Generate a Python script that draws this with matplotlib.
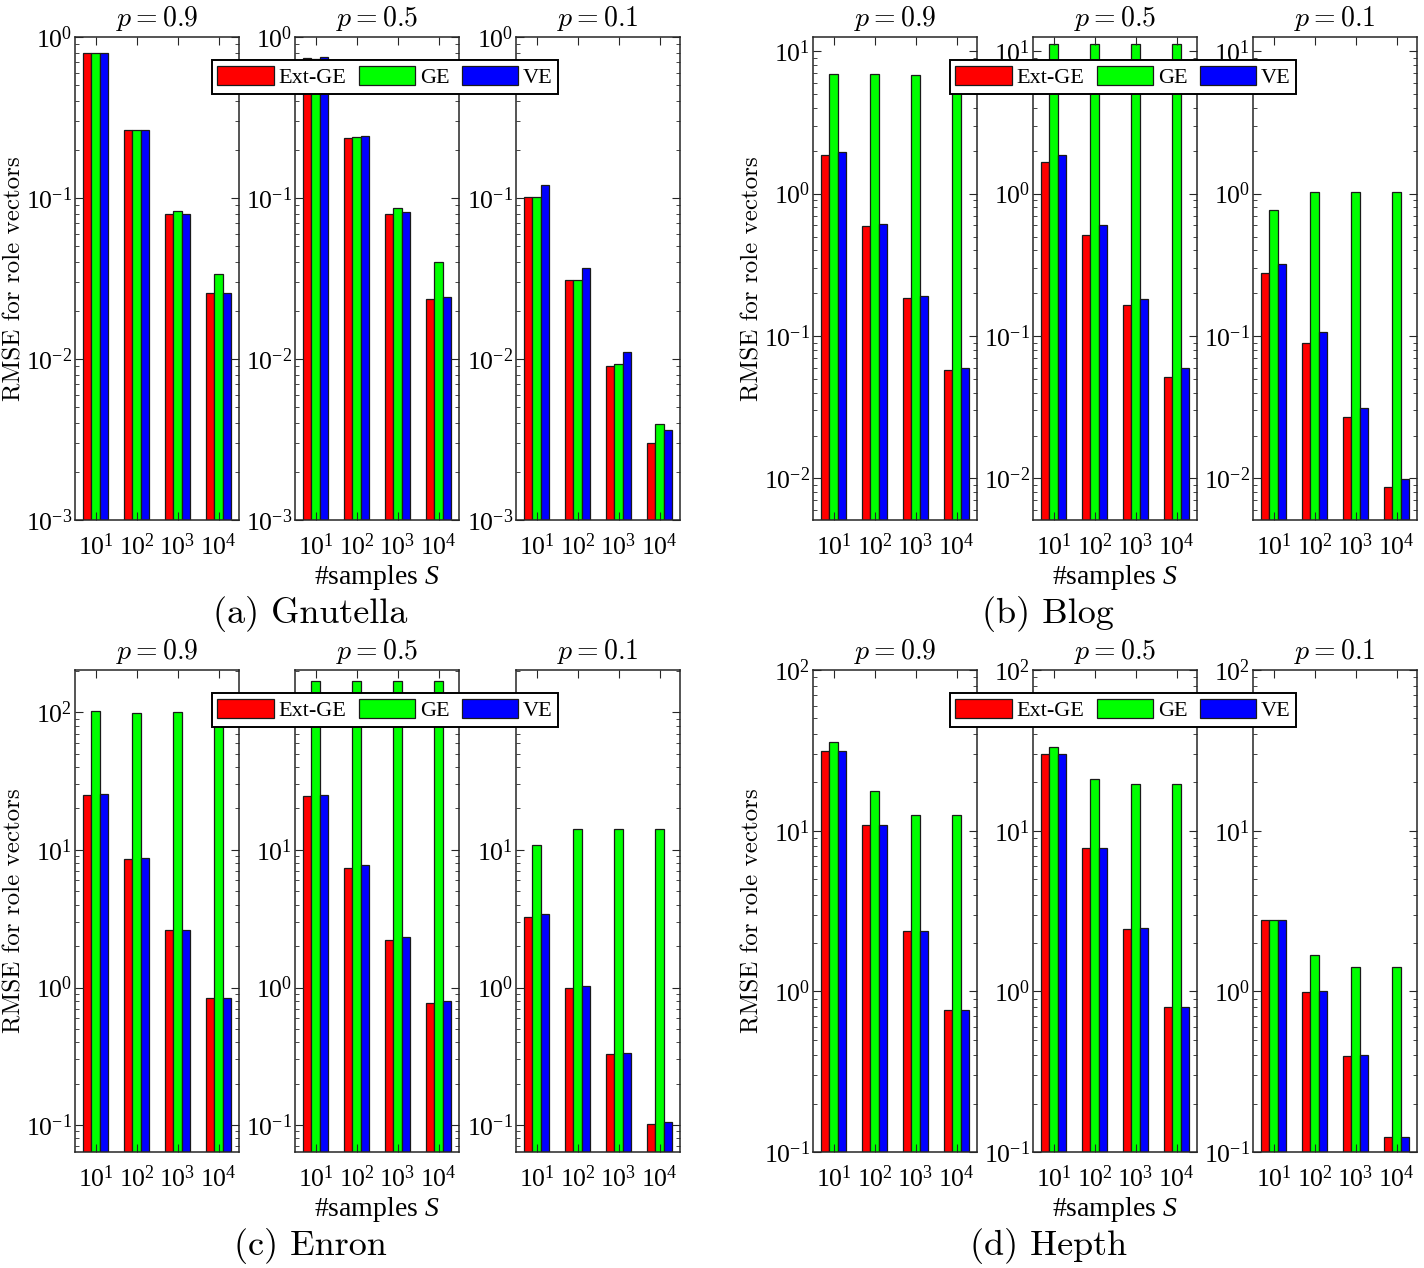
import numpy as np
import matplotlib
matplotlib.use('Agg')
import matplotlib.pyplot as plt
from matplotlib.ticker import NullFormatter

plt.rcParams.update({
    'font.family': ['Liberation Serif', 'DejaVu Serif'],
    'mathtext.fontset': 'custom',
    'mathtext.rm': 'Liberation Serif',
    'mathtext.it': 'Liberation Serif:italic',
    'mathtext.bf': 'Liberation Serif:bold',
    'axes.unicode_minus': False,
    'axes.edgecolor': '#262626',
    'axes.linewidth': 1.1,
    'xtick.color': '#262626',
    'ytick.color': '#262626',
    'xtick.labelcolor': 'black',
    'ytick.labelcolor': 'black',
})

SAMPLES = ['$10^1$', '$10^2$', '$10^3$', '$10^4$']
P_VALUES = ['0.9', '0.5', '0.1']
METHODS = ['Ext-GE', 'GE', 'VE']
COLORS = ['#ff0000', '#00ff00', '#0000ff']

# RMSE per p (rows: p=0.9, 0.5, 0.1), columns: S = 10^1..10^4
gnutella_ext = [[0.80, 0.265, 0.0796, 0.0257], [0.737, 0.235, 0.0796, 0.0236], [0.102, 0.031, 0.00905, 0.0030]]
gnutella_ge = [[0.80, 0.265, 0.0827, 0.0336], [0.733, 0.238, 0.0867, 0.040], [0.102, 0.031, 0.00935, 0.00395]]
gnutella_ve = [[0.80, 0.265, 0.0796, 0.0257], [0.755, 0.241, 0.082, 0.0244], [0.12, 0.0367, 0.011, 0.0036]]

blog_ext = [[1.86, 0.59, 0.185, 0.058], [1.68, 0.51, 0.165, 0.0515], [0.279, 0.090, 0.0272, 0.0087]]
blog_ge = [[6.96, 6.88, 6.77, 6.7], [11.3, 11.2, 11.2, 11.2], [0.766, 1.02, 1.02, 1.02]]
blog_ve = [[1.96, 0.61, 0.191, 0.060], [1.88, 0.60, 0.182, 0.060], [0.322, 0.106, 0.031, 0.00986]]

enron_ext = [[25.1, 8.63, 2.61, 0.84], [24.5, 7.42, 2.21, 0.766], [3.27, 0.995, 0.328, 0.102]]
enron_ge = [[101.7, 99.5, 100.7, 100.0], [170, 170, 170, 170], [10.8, 14.3, 14.3, 14.3]]
enron_ve = [[25.5, 8.77, 2.61, 0.84], [24.9, 7.8, 2.31, 0.796], [3.42, 1.03, 0.337, 0.105]]

hepth_ext = [[31.4, 10.8, 2.37, 0.767], [29.8, 7.83, 2.43, 0.80], [2.76, 0.99, 0.398, 0.1245]]
hepth_ge = [[35.7, 17.7, 12.6, 12.5], [33.3, 21.1, 19.5, 19.4], [2.78, 1.68, 1.41, 1.41]]
hepth_ve = [[31.4, 10.8, 2.37, 0.767], [29.8, 7.83, 2.47, 0.80], [2.78, 1.01, 0.40, 0.1245]]

panels = [
    ('(a) Gnutella', (gnutella_ext, gnutella_ge, gnutella_ve), (1e-3, 1.0)),
    ('(b) Blog', (blog_ext, blog_ge, blog_ve), (0.0051, 12.6)),
    ('(c) Enron', (enron_ext, enron_ge, enron_ve), (0.0638, 203)),
    ('(d) Hepth', (hepth_ext, hepth_ge, hepth_ve), (0.1, 100)),
]

W, H = 1424, 1268
fig = plt.figure(figsize=(W / 100, H / 100), dpi=100)

col_lefts = [[75, 295, 516], [813, 1033, 1253]]
row_spans = [(37, 520), (670, 1152)]
ax_w = 164
x = np.arange(1, 5)
bw = 0.2

for n, (caption, series, ylim) in enumerate(panels):
    row, col = divmod(n, 2)
    y0, y1 = row_spans[row]
    for i, p in enumerate(P_VALUES):
        left = col_lefts[col][i]
        ax = fig.add_axes([left / W, 1 - y1 / H, ax_w / W, (y1 - y0) / H])
        for k, vals in enumerate(series):
            ax.bar(x + (k - 1) * bw, vals[i], width=bw, color=COLORS[k],
                   edgecolor='#1a1a1a', linewidth=0.9, label=METHODS[k])
        ax.set_yscale('log')
        ax.set_ylim(*ylim)
        ax.set_xlim(0.5, 4.5)
        ax.set_xticks(x)
        ax.set_xticklabels(SAMPLES)
        ax.yaxis.set_minor_formatter(NullFormatter())
        ax.tick_params(which='both', direction='in', top=True, right=True, labelsize=18.5)
        ax.tick_params(axis='x', which='major', length=6, pad=10)
        ax.tick_params(axis='x', which='minor', bottom=False, top=False)
        ax.tick_params(axis='y', which='major', length=6, pad=2)
        ax.tick_params(axis='y', which='minor', length=3)
        ax.set_title(f'$p = {p}$', fontsize=20, pad=8, math_fontfamily='cm')
        if i == 1:
            ax.set_xlabel('#samples $S$', fontsize=20, labelpad=2)
            handles, labels = ax.get_legend_handles_labels()
            cx = (col_lefts[col][0] + 310) / W
            cy = 1 - (y0 + 40) / H
            fig.legend(handles, labels, loc='center', bbox_to_anchor=(cx, cy), ncol=3,
                       fontsize=16, frameon=True, fancybox=False, edgecolor='black',
                       framealpha=1, handlelength=2.55, handleheight=0.92,
                       handletextpad=0.2, columnspacing=0.55, borderpad=0.25,
                       borderaxespad=0).get_frame().set_linewidth(1.4)
    fig.text((col_lefts[col][0] - 61) / W, 1 - (y0 + y1) / 2 / H, 'RMSE for role vectors',
             rotation=90, ha='center', va='center', fontsize=18, family='cmr10')
    fig.text((col_lefts[col][0] + 235) / W, 1 - (y1 + 94) / H, caption,
             ha='center', va='center', fontsize=26, family='cmr10')

fig.savefig('out.png', dpi=100)
